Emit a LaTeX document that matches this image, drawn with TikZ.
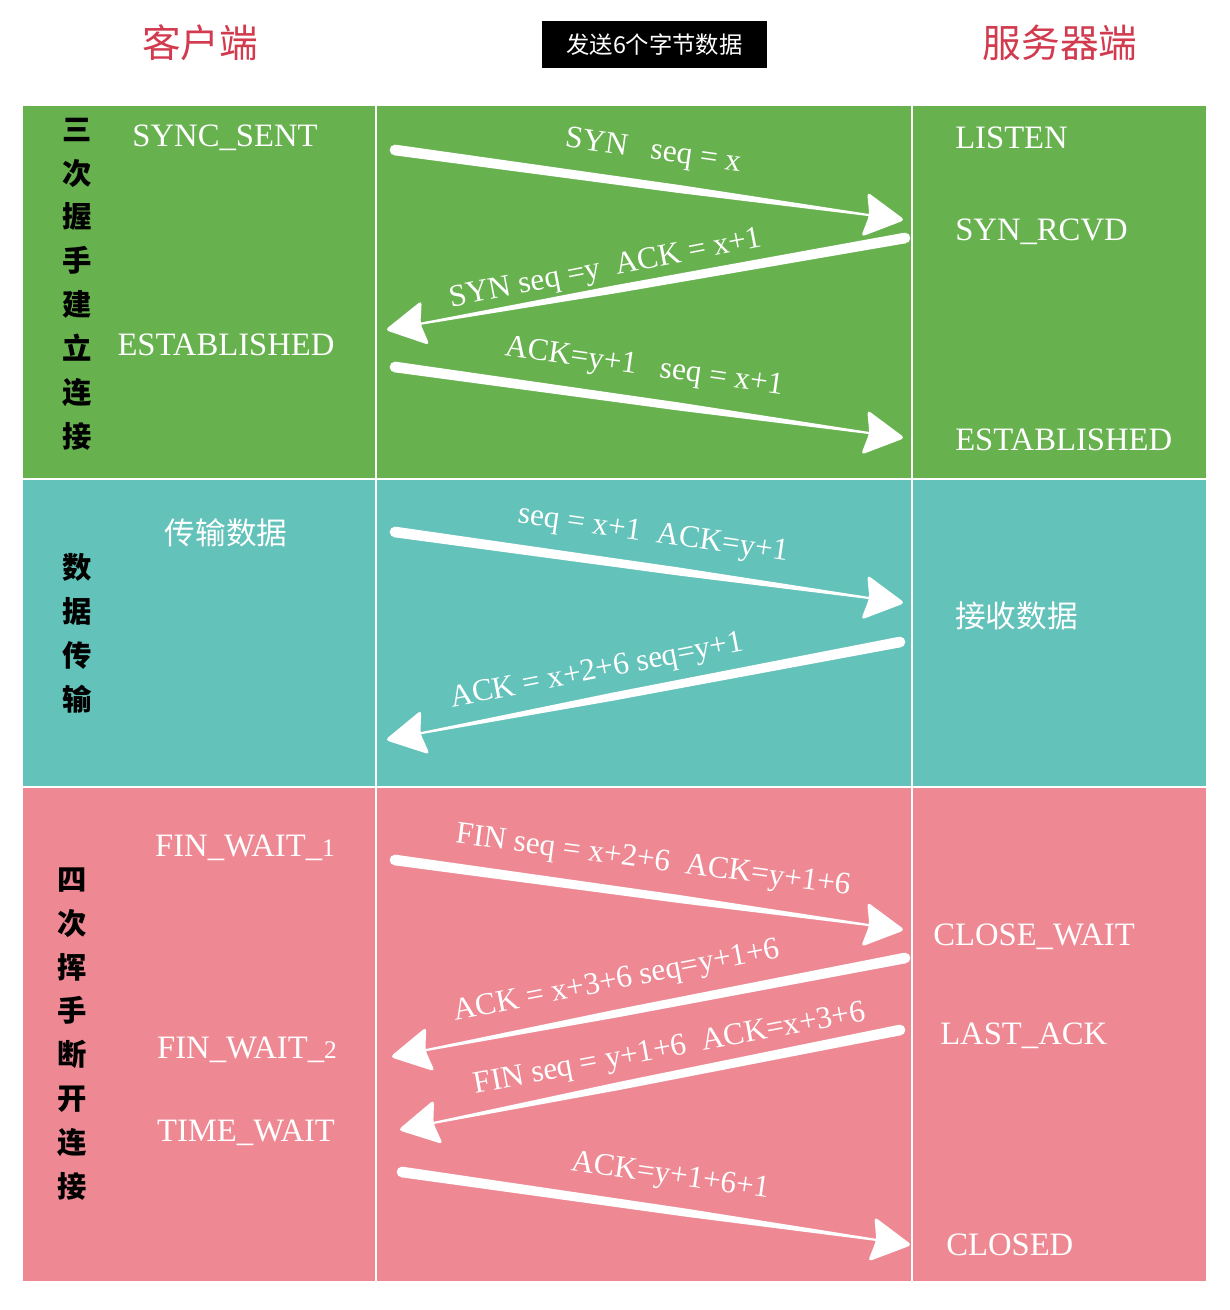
\documentclass[tikz,border=0pt]{standalone}
\usepackage{fontspec}
\setmainfont{Liberation Serif}
\newfontfamily\cjk{Noto Sans CJK SC}
\usetikzlibrary{calc}
\definecolor{cgreen}{HTML}{67B24F}
\definecolor{cteal}{HTML}{63C2B9}
\definecolor{cpink}{HTML}{EE8994}
\definecolor{cred}{HTML}{D23A4E}
\newcommand\brusharrow[2]{%
  \coordinate (hbA) at ($(#2)!31pt!(#1)$);
  \coordinate (hbN) at ($(#2)!27pt!(#1)$);
  \coordinate (hbM) at ($(#1)!0.6!(hbN)$);
  \fill[white] ($(#1)!4pt!90:(#2)$) -- ($(hbM)!3pt!-90:(#1)$) -- ($(hbN)!0.8pt!-90:(#1)$) -- ($(hbN)!0.8pt!90:(#1)$) -- ($(hbM)!3pt!90:(#1)$) -- ($(#1)!4pt!-90:(#2)$) -- cycle;
  \fill[white] (#1) circle (4pt);
  \fill[white, rounded corners=3pt] (#2) -- ($(hbA)!17pt!90:(#2)$) -- (hbN) -- ($(hbA)!17pt!-90:(#2)$) -- cycle;
}
\begin{document}
\begin{tikzpicture}[x=0.75pt,y=-0.75pt,
  state/.style={text=white, inner sep=0pt, font=\fontsize{24.5}{26}\selectfont},
  cstate/.style={text=white, inner sep=0pt, font=\cjk\fontsize{23}{26}\selectfont},
  msg/.style={text=white, inner sep=0pt, font=\fontsize{23.5}{25}\selectfont},
  phase/.style={text=black, inner sep=0pt, align=center, font=\cjk\bfseries\fontsize{22}{32.9}\selectfont},
  side/.style={text=cred, inner sep=0pt, font=\cjk\fontsize{29}{32}\selectfont}]
\useasboundingbox (0,0) rectangle (1230,1310);
\fill[white] (0,0) rectangle (1230,1310);
% bands
\fill[cgreen] (23,106) rectangle (1206,478);
\fill[cteal] (23,480) rectangle (1206,786);
\fill[cpink] (23,788) rectangle (1206,1281);
\draw[white, line width=1.2pt] (376,106) -- (376,1281);
\draw[white, line width=1.2pt] (912,106) -- (912,1281);
% header
\node[side] (client) at (200,43) {客户端};
\node[side] (server) at (1060,43) {服务器端};
\node[fill=black, text=white, minimum width=168.75pt, minimum height=35pt, inner sep=0pt, font=\cjk\fontsize{17.5}{20}\selectfont] (note) at (654.5,44.5) {发送6个字节数据};
% phase labels
\node[phase] (p1) at (77,284) {三\\次\\握\\手\\建\\立\\连\\接};
\node[phase] (p2) at (77,633) {数\\据\\传\\输};
\node[phase] (p3) at (72,1034) {四\\次\\挥\\手\\断\\开\\连\\接};
% client states
\node[state] (c1) at (225,138) {SYNC\_SENT};
\node[state] (c2) at (226,345) {ESTABLISHED};
\node[cstate] (c3) at (226,533) {传输数据};
\node[state] (c4) at (245,848) {FIN\_WAIT\_{\fontsize{19}{20}\selectfont 1}};
\node[state] (c5) at (247,1050) {FIN\_WAIT\_{\fontsize{19}{20}\selectfont 2}};
\node[state] (c6) at (246,1133) {TIME\_WAIT};
% server states
\node[state, anchor=west] (s1) at (955,138) {LISTEN};
\node[state, anchor=west] (s2) at (955,232) {SYN\_RCVD};
\node[state, anchor=west] (s3) at (955,440) {ESTABLISHED};
\node[cstate, anchor=west] (s4) at (955,616) {接收数据};
\node[state, anchor=west] (s5) at (933,937) {CLOSE\_WAIT};
\node[state, anchor=west] (s6) at (940,1036) {LAST\_ACK};
\node[state, anchor=west] (s7) at (946,1245) {CLOSED};
% arrow endpoints
\coordinate (a1s) at (395,150);  \coordinate (a1e) at (905,220);
\coordinate (a2s) at (905,238);  \coordinate (a2e) at (385,330);
\coordinate (a3s) at (395,367);  \coordinate (a3e) at (905,438);
\coordinate (a4s) at (395,532);  \coordinate (a4e) at (905,603);
\coordinate (a5s) at (900,642);  \coordinate (a5e) at (385,740);
\coordinate (a6s) at (395,860);  \coordinate (a6e) at (905,930);
\coordinate (a7s) at (905,958);  \coordinate (a7e) at (390,1057);
\coordinate (a8s) at (900,1030); \coordinate (a8e) at (398,1130);
\coordinate (a9s) at (402,1172); \coordinate (a9e) at (912,1245);
\brusharrow{a1s}{a1e}
\brusharrow{a2s}{a2e}
\brusharrow{a3s}{a3e}
\brusharrow{a4s}{a4e}
\brusharrow{a5s}{a5e}
\brusharrow{a6s}{a6e}
\brusharrow{a7s}{a7e}
\brusharrow{a8s}{a8e}
\brusharrow{a9s}{a9e}
% messages
\node[msg, rotate=-8] (m1) at (653,152) {SYN\ \ \ seq = x};
\node[msg, rotate=11] (m2) at (606,270) {SYN seq =y\ \ ACK = x+1};
\node[msg, rotate=-8] (m3) at (644,368) {ACK=y+1\ \ \ seq = x+1};
\node[msg, rotate=-8] (m4) at (653,535) {seq = x+1\ \ ACK=y+1};
\node[msg, rotate=11] (m5) at (597,672) {ACK = x+2+6 seq=y+1};
\node[msg, rotate=-7.5] (m6) at (653,862) {FIN seq = x+2+6\ \ ACK=y+1+6};
\node[msg, rotate=11] (m7) at (617,982) {ACK = x+3+6 seq=y+1+6};
\node[msg, rotate=10.6] (m8) at (670,1050) {FIN seq = y+1+6\ \ ACK=x+3+6};
\node[msg, rotate=-8] (m9) at (670,1177) {ACK=y+1+6+1};
\end{tikzpicture}
\end{document}
